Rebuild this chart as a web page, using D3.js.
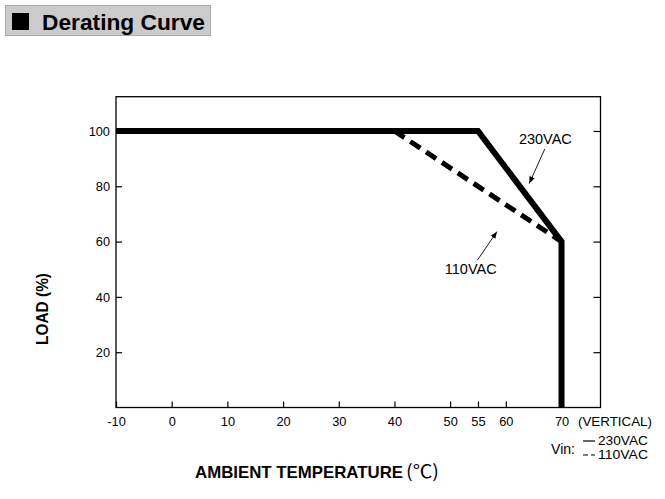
<!DOCTYPE html>
<html>
<head>
  <meta charset="utf-8">
  <title>Derating Curve</title>
  <script src="https://d3js.org/d3.v7.min.js"></script>
<style type="text/css">
body {
  margin: 0;
  background: #fff;
  font-family: "Liberation Sans", Arial, sans-serif;
}
svg text {
  fill: #000;
}
.tick line {
  stroke: #000;
  stroke-width: 1.2;
}
.tick text {
  font-size: 12.8px;
  font-family: "Liberation Sans", Arial, sans-serif;
}
</style>
</head>
<body>
<svg id="chart" width="665" height="499"></svg>

<script type="text/javascript">

// data
let xTicks = [-10, 0, 10, 20, 30, 40, 50, 55, 60, 70];
let yTicks = [20, 40, 60, 80, 100];

let temp230 = [-10, 55, 70, 70];
let load230 = [100, 100, 60, 0];

let temp110 = [-10, 40, 70, 70];
let load110 = [100, 100, 60, 0];

let legendNames = ['230VAC', '110VAC'];

let svg = d3.select('#chart');

let x = d3.scaleLinear().domain([-10, 77]).range([116, 600.5]);
let y = d3.scaleLinear().domain([0, 112.4]).range([407.5, 96.7]);

// title box
svg.append('rect')
  .attr('x', 5.5).attr('y', 5.5)
  .attr('width', 205).attr('height', 30)
  .attr('fill', '#cbcbcb')
  .attr('stroke', '#a9a9a9');
svg.append('rect')
  .attr('x', 12).attr('y', 13)
  .attr('width', 17).attr('height', 17)
  .attr('fill', '#000');
svg.append('text')
  .attr('x', 42).attr('y', 30)
  .attr('font-size', 22).attr('font-weight', 'bold')
  .attr('textLength', 163).attr('lengthAdjust', 'spacingAndGlyphs')
  .text('Derating Curve');

// axes (ticks point inward), plain hyphen for the minus sign
svg.append('g')
  .attr('transform', 'translate(0,' + y(0) + ')')
  .call(d3.axisBottom(x).tickValues(xTicks).tickSizeInner(-6).tickSizeOuter(0).tickPadding(9.5).tickFormat(d => String(d)))
  .call(g => g.select('.domain').remove());

svg.append('g')
  .attr('transform', 'translate(' + x(-10) + ',0)')
  .call(d3.axisLeft(y).tickValues(yTicks).tickSizeInner(-6).tickSizeOuter(0).tickPadding(6))
  .call(g => g.select('.domain').remove());

svg.append('g')
  .attr('transform', 'translate(' + x(77) + ',0)')
  .call(d3.axisRight(y).tickValues(yTicks).tickSizeInner(-7).tickSizeOuter(0).tickFormat(''))
  .call(g => g.select('.domain').remove());

// frame
svg.append('rect')
  .attr('x', x(-10)).attr('y', y(112.4))
  .attr('width', x(77) - x(-10)).attr('height', y(0) - y(112.4))
  .attr('fill', 'none')
  .attr('stroke', '#000')
  .attr('stroke-width', 1.3);

// curves
let line = d3.line()
  .x(d => x(d[0]))
  .y(d => y(d[1]));

let pts110 = d3.zip(temp110, load110).slice(1, 3);
svg.append('path')
  .attr('d', line(pts110))
  .attr('fill', 'none')
  .attr('stroke', '#000')
  .attr('stroke-width', 5)
  .attr('stroke-dasharray', '12,7');

svg.append('path')
  .attr('d', line(d3.zip(temp230, load230)))
  .attr('fill', 'none')
  .attr('stroke', '#000')
  .attr('stroke-width', 6)
  .attr('stroke-linejoin', 'miter');

// annotations with arrows
svg.append('defs').append('marker')
  .attr('id', 'arrow')
  .attr('viewBox', '0 0 10 10')
  .attr('refX', 10).attr('refY', 5)
  .attr('markerWidth', 7).attr('markerHeight', 7)
  .attr('markerUnits', 'userSpaceOnUse')
  .attr('orient', 'auto')
  .append('path')
  .attr('d', 'M0,1L10,5L0,9Z')
  .attr('fill', '#000');

let notes = [
  { name: legendNames[0], tx: 67.1, ty: 96.6, from: [67.0, 93.5], to: [64.2, 81.0] },
  { name: legendNames[1], tx: 53.7, ty: 49.8, from: [54.9, 53.3], to: [58.4, 63.6] }
];

notes.forEach(function(n) {
  svg.append('text')
    .attr('x', x(n.tx)).attr('y', y(n.ty))
    .attr('text-anchor', 'middle')
    .attr('dominant-baseline', 'middle')
    .attr('font-size', 14.5)
    .text(n.name);
  svg.append('line')
    .attr('x1', x(n.from[0])).attr('y1', y(n.from[1]))
    .attr('x2', x(n.to[0])).attr('y2', y(n.to[1]))
    .attr('stroke', '#000')
    .attr('stroke-width', 0.9)
    .attr('marker-end', 'url(#arrow)');
});

// axis titles
svg.append('text')
  .attr('x', 195).attr('y', 477.5)
  .attr('font-size', 17).attr('font-weight', 'bold')
  .attr('textLength', 208).attr('lengthAdjust', 'spacingAndGlyphs')
  .text('AMBIENT TEMPERATURE');
svg.append('text')
  .attr('x', 406).attr('y', 478)
  .attr('font-size', 18)
  .attr('font-family', '"Noto Sans CJK SC", sans-serif')
  .attr('textLength', 33).attr('lengthAdjust', 'spacingAndGlyphs')
  .text('(℃)');

svg.append('text')
  .attr('transform', 'translate(48,309) rotate(-90)')
  .attr('text-anchor', 'middle')
  .attr('font-size', 17).attr('font-weight', 'bold')
  .attr('textLength', 72).attr('lengthAdjust', 'spacingAndGlyphs')
  .text('LOAD (%)');

// legend
svg.append('text')
  .attr('x', 578).attr('y', 426)
  .attr('font-size', 13.5)
  .attr('textLength', 74).attr('lengthAdjust', 'spacingAndGlyphs')
  .text('(VERTICAL)');

svg.append('text')
  .attr('x', 551).attr('y', 454)
  .attr('font-size', 14.5)
  .attr('textLength', 24).attr('lengthAdjust', 'spacingAndGlyphs')
  .text('Vin:');

let legend = svg.selectAll('g.legend')
  .data(legendNames)
  .enter()
  .append('g')
  .attr('class', 'legend')
  .attr('transform', (d, i) => 'translate(0,' + (441 + i * 14) + ')');

legend.append('line')
  .attr('x1', 583).attr('x2', 595)
  .attr('y1', 0).attr('y2', 0)
  .attr('stroke', '#000')
  .attr('stroke-width', 1.2)
  .attr('stroke-dasharray', (d, i) => i === 0 ? null : '5,3');

legend.append('text')
  .attr('x', 648).attr('y', 0)
  .attr('text-anchor', 'end')
  .attr('dominant-baseline', 'middle')
  .attr('font-size', 13.5)
  .attr('textLength', 50).attr('lengthAdjust', 'spacingAndGlyphs')
  .text(d => d);

</script>
</body>
</html>
